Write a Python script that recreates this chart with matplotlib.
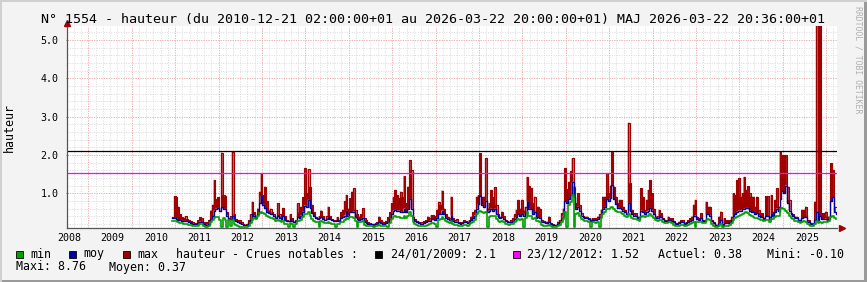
import matplotlib
matplotlib.use("Agg")
import matplotlib.pyplot as plt
from matplotlib.patches import Rectangle
import numpy as np

# ---- data (water level, half-month samples) ----
start_year = 2010.375
step = 1 / 24

hmax = [
    0.37, 0.93, 0.90, 0.65, 0.45, 0.38, 0.35, 0.40, 0.33, 0.30,
    0.27, 0.25, 0.22, 0.20, 0.30, 0.37, 0.35, 0.25, 0.22, 0.25,
    0.30, 0.55, 0.70, 1.35, 0.85, 0.90, 0.55, 2.06, 0.95, 0.92,
    0.50, 0.35, 0.40, 2.09, 0.45, 0.33, 0.30, 0.30, 0.25, 0.20,
    0.18, 0.20, 0.30, 0.45, 0.78, 0.50, 0.35, 0.60, 1.04, 1.52,
    0.95, 1.17, 0.80, 0.55, 0.60, 0.50, 0.45, 0.35, 0.74, 0.45,
    0.38, 0.62, 0.40, 0.30, 0.28, 0.45, 0.35, 0.25, 0.30, 0.74,
    0.50, 0.65, 0.90, 1.65, 1.00, 1.63, 1.17, 0.70, 0.50, 0.38,
    0.35, 0.40, 0.55, 0.40, 0.30, 0.40, 0.65, 0.40, 0.33, 0.30,
    0.30, 0.38, 0.30, 0.50, 0.57, 0.80, 0.96, 0.60, 0.87, 1.04,
    1.13, 0.57, 0.45, 0.39, 0.45, 0.61, 0.35, 0.30, 0.25, 0.22,
    0.20, 0.20, 0.22, 0.25, 0.39, 0.30, 0.26, 0.25, 0.28, 0.38,
    0.50, 0.74, 0.90, 1.09, 0.95, 0.87, 1.04, 0.90, 1.45, 0.74,
    1.17, 1.87, 1.60, 0.39, 0.33, 0.28, 0.26, 0.25, 0.25, 0.27,
    0.30, 0.39, 0.35, 0.43, 0.43, 0.40, 0.57, 0.78, 0.70, 1.07,
    0.60, 0.45, 0.39, 0.35, 0.91, 0.35, 0.30, 0.33, 0.25, 0.22,
    0.25, 0.30, 0.28, 0.26, 0.30, 0.39, 0.50, 0.57, 0.91, 0.95,
    2.04, 0.90, 0.91, 1.91, 0.60, 0.75, 1.09, 0.90, 1.16, 0.70,
    0.45, 0.39, 0.52, 0.40, 0.30, 0.28, 0.26, 0.30, 0.35, 0.45,
    0.57, 0.83, 0.60, 0.83, 0.55, 0.65, 1.43, 1.20, 1.13, 0.74,
    0.91, 0.39, 0.65, 0.60, 0.30, 0.28, 0.26, 0.26, 0.39, 0.22,
    0.20, 0.17, 0.17, 0.26, 0.30, 0.48, 0.60, 1.65, 1.10, 1.30,
    1.57, 1.91, 1.17, 0.74, 1.00, 0.70, 0.48, 0.40, 0.39, 0.39,
    0.35, 0.30, 0.35, 0.35, 0.35, 0.39, 0.45, 0.57, 0.91, 0.91,
    1.52, 1.00, 1.20, 2.09, 1.17, 0.91, 0.74, 0.83, 0.83, 0.65,
    0.57, 0.45, 2.84, 1.26, 0.57, 0.48, 0.48, 0.39, 0.35, 1.13,
    0.91, 0.57, 0.83, 1.09, 1.35, 1.00, 0.60, 0.39, 0.40, 0.57,
    0.48, 0.35, 0.30, 0.30, 0.39, 0.35, 0.35, 0.28, 0.22, 0.22,
    0.26, 0.30, 0.30, 0.22, 0.25, 0.30, 0.35, 0.39, 0.70, 0.83,
    0.39, 0.35, 0.48, 0.30, 0.30, 0.78, 0.65, 0.65, 0.30, 0.25,
    0.17, 0.17, 0.39, 0.52, 0.20, 0.35, 0.30, 0.30, 0.30, 0.39,
    1.00, 0.96, 1.35, 1.39, 0.91, 1.00, 1.43, 1.09, 1.19, 1.00,
    0.91, 0.91, 0.65, 0.91, 0.57, 0.48, 0.48, 0.35, 0.93, 0.93,
    0.39, 0.96, 0.52, 0.83, 1.13, 0.65, 2.09, 2.00, 2.00, 2.00,
    1.17, 0.83, 0.48, 0.45, 0.39, 0.39, 0.30, 0.30, 0.57, 0.57,
    0.65, 0.30, 0.30, 0.22, 0.22, 0.78, 8.76, 0.48, 6.50, 0.48,
    0.48, 0.52, 0.39, 0.39, 1.78, 1.60, 0.65, 0.65,
]

hmoy = [
    0.35, 0.36, 0.34, 0.30, 0.30, 0.28, 0.28, 0.28, 0.27, 0.24,
    0.22, 0.21, 0.20, 0.20, 0.22, 0.26, 0.25, 0.20, 0.18, 0.18,
    0.20, 0.33, 0.40, 0.55, 0.60, 0.62, 0.55, 0.65, 0.60, 0.58,
    0.42, 0.33, 0.33, 0.42, 0.30, 0.27, 0.25, 0.22, 0.20, 0.18,
    0.17, 0.18, 0.22, 0.30, 0.45, 0.42, 0.38, 0.45, 0.75, 0.92,
    0.70, 0.62, 0.52, 0.48, 0.47, 0.45, 0.42, 0.36, 0.40, 0.36,
    0.33, 0.40, 0.30, 0.28, 0.27, 0.32, 0.28, 0.26, 0.27, 0.38,
    0.36, 0.42, 0.52, 0.68, 0.65, 0.83, 0.62, 0.48, 0.40, 0.36,
    0.34, 0.35, 0.38, 0.33, 0.30, 0.32, 0.38, 0.32, 0.30, 0.28,
    0.28, 0.30, 0.28, 0.35, 0.38, 0.42, 0.50, 0.42, 0.50, 0.50,
    0.52, 0.38, 0.33, 0.30, 0.32, 0.36, 0.25, 0.22, 0.20, 0.20,
    0.19, 0.18, 0.20, 0.20, 0.24, 0.22, 0.20, 0.20, 0.22, 0.26,
    0.32, 0.45, 0.55, 0.57, 0.55, 0.55, 0.52, 0.50, 0.60, 0.50,
    0.58, 0.85, 0.60, 0.32, 0.28, 0.25, 0.22, 0.21, 0.21, 0.22,
    0.24, 0.28, 0.28, 0.32, 0.32, 0.30, 0.36, 0.45, 0.45, 0.55,
    0.45, 0.36, 0.33, 0.30, 0.42, 0.28, 0.26, 0.26, 0.22, 0.20,
    0.22, 0.24, 0.24, 0.22, 0.24, 0.30, 0.36, 0.42, 0.60, 0.72,
    0.92, 0.70, 0.65, 0.80, 0.50, 0.55, 0.60, 0.55, 0.60, 0.45,
    0.38, 0.36, 0.38, 0.32, 0.28, 0.26, 0.25, 0.26, 0.28, 0.32,
    0.38, 0.45, 0.40, 0.45, 0.42, 0.48, 0.78, 0.60, 0.58, 0.45,
    0.50, 0.35, 0.38, 0.36, 0.26, 0.24, 0.22, 0.22, 0.25, 0.20,
    0.18, 0.17, 0.17, 0.20, 0.24, 0.32, 0.42, 0.80, 0.75, 0.85,
    0.95, 1.30, 0.90, 0.60, 0.65, 0.55, 0.42, 0.38, 0.36, 0.35,
    0.32, 0.28, 0.30, 0.30, 0.30, 0.32, 0.38, 0.45, 0.60, 0.65,
    0.85, 0.80, 0.88, 1.22, 0.85, 0.72, 0.62, 0.62, 0.60, 0.55,
    0.50, 0.45, 0.75, 0.55, 0.45, 0.42, 0.40, 0.36, 0.34, 0.55,
    0.50, 0.45, 0.52, 0.55, 0.62, 0.55, 0.45, 0.36, 0.35, 0.40,
    0.38, 0.32, 0.28, 0.28, 0.30, 0.30, 0.28, 0.24, 0.20, 0.20,
    0.22, 0.24, 0.24, 0.20, 0.22, 0.25, 0.28, 0.30, 0.40, 0.42,
    0.32, 0.30, 0.35, 0.27, 0.27, 0.45, 0.45, 0.42, 0.27, 0.22,
    0.18, 0.17, 0.22, 0.30, 0.18, 0.22, 0.22, 0.22, 0.24, 0.30,
    0.42, 0.45, 0.52, 0.55, 0.55, 0.58, 0.60, 0.62, 0.62, 0.55,
    0.50, 0.50, 0.45, 0.48, 0.42, 0.38, 0.38, 0.33, 0.40, 0.40,
    0.34, 0.45, 0.40, 0.50, 0.60, 0.55, 0.85, 1.05, 1.00, 1.20,
    0.75, 0.55, 0.45, 0.40, 0.36, 0.36, 0.30, 0.28, 0.35, 0.38,
    0.38, 0.26, 0.24, 0.20, 0.20, 0.30, 0.50, 0.30, 0.40, 0.32,
    0.32, 0.34, 0.30, 0.34, 0.80, 0.90, 0.50, 0.45,
]

hmin = [
    0.27, 0.28, 0.27, 0.24, 0.22, 0.22, 0.21, 0.21, 0.20, 0.18,
    0.17, 0.16, 0.15, 0.15, 0.16, 0.20, 0.20, 0.14, 0.13, 0.13,
    0.15, 0.24, 0.30, 0.36, 0.38, 0.38, 0.30, 0.12, 0.35, 0.30,
    0.12, 0.30, 0.14, 0.30, 0.20, 0.18, 0.15, 0.13, 0.12, 0.12,
    0.12, 0.13, 0.15, 0.22, 0.30, 0.35, 0.32, 0.40, 0.48, 0.52,
    0.48, 0.45, 0.40, 0.38, 0.36, 0.35, 0.33, 0.28, 0.30, 0.27,
    0.25, 0.28, 0.20, 0.20, 0.12, 0.22, 0.20, 0.12, 0.20, 0.27,
    0.27, 0.30, 0.38, 0.45, 0.45, 0.50, 0.42, 0.32, 0.28, 0.25,
    0.24, 0.12, 0.27, 0.24, 0.22, 0.23, 0.25, 0.22, 0.20, 0.20,
    0.12, 0.20, 0.20, 0.24, 0.26, 0.30, 0.36, 0.33, 0.38, 0.38,
    0.36, 0.28, 0.12, 0.25, 0.24, 0.27, 0.18, 0.16, 0.15, 0.14,
    0.14, 0.13, 0.14, 0.15, 0.17, 0.15, 0.14, 0.14, 0.15, 0.12,
    0.22, 0.32, 0.38, 0.40, 0.38, 0.38, 0.36, 0.36, 0.42, 0.35,
    0.40, 0.52, 0.40, 0.24, 0.20, 0.18, 0.16, 0.15, 0.15, 0.15,
    0.16, 0.18, 0.20, 0.22, 0.22, 0.21, 0.12, 0.30, 0.33, 0.38,
    0.33, 0.27, 0.25, 0.22, 0.28, 0.20, 0.18, 0.18, 0.16, 0.15,
    0.16, 0.17, 0.17, 0.16, 0.17, 0.22, 0.26, 0.30, 0.45, 0.50,
    0.55, 0.50, 0.48, 0.52, 0.12, 0.38, 0.42, 0.40, 0.42, 0.33,
    0.28, 0.26, 0.27, 0.24, 0.20, 0.19, 0.18, 0.19, 0.20, 0.24,
    0.28, 0.32, 0.30, 0.32, 0.12, 0.35, 0.50, 0.42, 0.40, 0.33,
    0.36, 0.27, 0.28, 0.26, 0.18, 0.16, 0.15, 0.15, 0.17, 0.14,
    0.13, 0.12, 0.12, 0.14, 0.17, 0.24, 0.32, 0.50, 0.12, 0.70,
    0.78, 0.95, 0.12, 0.45, 0.48, 0.42, 0.33, 0.30, 0.28, 0.27,
    0.25, 0.12, 0.24, 0.24, 0.23, 0.25, 0.12, 0.35, 0.45, 0.50,
    0.60, 0.60, 0.62, 0.65, 0.58, 0.55, 0.50, 0.50, 0.48, 0.45,
    0.40, 0.38, 0.45, 0.42, 0.36, 0.34, 0.32, 0.30, 0.28, 0.38,
    0.40, 0.38, 0.40, 0.42, 0.45, 0.42, 0.36, 0.30, 0.28, 0.30,
    0.30, 0.25, 0.22, 0.22, 0.24, 0.24, 0.22, 0.18, 0.16, 0.15,
    0.16, 0.18, 0.18, 0.15, 0.16, 0.18, 0.20, 0.22, 0.26, 0.12,
    0.26, 0.24, 0.26, 0.22, 0.22, 0.30, 0.32, 0.30, 0.20, 0.16,
    0.13, 0.12, 0.15, 0.20, 0.13, 0.15, 0.15, 0.16, 0.17, 0.22,
    0.30, 0.35, 0.38, 0.42, 0.44, 0.46, 0.48, 0.50, 0.48, 0.44,
    0.40, 0.38, 0.36, 0.36, 0.33, 0.30, 0.30, 0.27, 0.30, 0.30,
    0.26, 0.33, 0.32, 0.38, 0.42, 0.42, 0.58, 0.62, 0.60, 0.55,
    0.48, 0.42, 0.36, 0.32, 0.28, 0.28, 0.24, 0.22, 0.25, 0.27,
    0.26, 0.20, 0.18, 0.15, 0.15, 0.20, 0.28, 0.22, 0.25, 0.22,
    0.24, 0.26, 0.25, 0.27, 0.38, 0.40, 0.35, 0.33,
]

years = list(range(2008, 2026))
y_ticks = [1.0, 2.0, 3.0, 4.0, 5.0]
crues = [("24/01/2009", 2.1, "#000000"), ("23/12/2012", 1.52, "#ff00ff")]

n = min(len(hmax), len(hmoy), len(hmin))
t = start_year + np.arange(n) * step
hmax = np.array(hmax[:n])
hmoy = np.array(hmoy[:n])
hmin = np.array(hmin[:n])

RED = "#a00000"
BLUE = "#0000a0"
GREEN = "#00a000"
BG = "#f3f3f3"

W, H = 867, 282
fig = plt.figure(figsize=(W / 100, H / 100), dpi=100, facecolor=BG)


def fx(x):
    return x / W


def fy(y):
    return 1 - y / H


# plot area in pixels
L, R, T, B = 67, 837, 26, 228.3
ax = fig.add_axes([fx(L), fy(B), (R - L) / W, (B - T) / H])
ax.set_facecolor("white")
ax.set_xlim(2007.954, 2025.696)
ax.set_ylim(0.087, 5.365)

mono = "DejaVu Sans Mono"

# grid
grid_minor = "#dadada"
grid_major = "#f4a8a8"
dots = (0, (1, 1.5))
for v in np.arange(0.2, 5.4, 0.2):
    ax.axhline(v, color=grid_minor, lw=0.7, ls=dots, zorder=0)
for v in y_ticks:
    ax.axhline(v, color=grid_major, lw=0.7, ls=dots, zorder=0.5)
for v in np.arange(2007.445 + 1 / 6, 2025.7, 1 / 6):
    ax.axvline(v, color=grid_minor, lw=0.7, ls=dots, zorder=0)
for v in np.arange(2008.445, 2025.7, 1.0):
    ax.axvline(v, color=grid_major, lw=0.7, ls=dots, zorder=0.5)

# data
ax.fill_between(t, hmoy, hmax, step="post", color=RED, lw=0, zorder=2)
ax.plot(t, hmax, drawstyle="steps-post", color=RED, lw=0.8, zorder=2)
ax.plot(t, hmoy, drawstyle="steps-post", color=BLUE, lw=1.0, zorder=3)
ax.plot(t, hmin, drawstyle="steps-post", color=GREEN, lw=1.2, zorder=4)

for _, level, col in crues:
    ax.axhline(level, color=col, lw=0.9, zorder=5)

# axes
for s in ["top", "right"]:
    ax.spines[s].set_visible(False)
for s in ["left", "bottom"]:
    ax.spines[s].set_color("#555555")
    ax.spines[s].set_linewidth(0.9)
    ax.spines[s].set_zorder(6)
ax.plot([1.006], [0.0], marker=">", color=RED, ms=4.5, transform=ax.transAxes,
        clip_on=False, zorder=7)
ax.plot([0.0], [1.015], marker="^", color=RED, ms=4.5, transform=ax.transAxes,
        clip_on=False, zorder=7)

ax.set_xticks(years)
ax.set_xticklabels([str(y) for y in years], fontsize=7.2, family=mono)
ax.set_yticks(y_ticks)
ax.set_yticklabels([f"{v:.1f}" for v in y_ticks], fontsize=7.2, family=mono)
ax.tick_params(axis="x", length=0, pad=3.5)
ax.tick_params(axis="y", length=2, direction="inout", color="#888888", pad=5)
ax.set_ylabel("hauteur", fontsize=8.4, family=mono)
ax.yaxis.set_label_coords((16 - L) / (R - L), 0.5)

# title
fig.text(fx(433), fy(19), "N° 1554 - hauteur (du 2010-12-21 02:00:00+01 au "
         "2026-03-22 20:00:00+01) MAJ 2026-03-22 20:36:00+01",
         ha="center", va="center", fontsize=9.6, family=mono)
fig.text(fx(858), fy(60), "RRDTOOL / TOBI OETIKER", rotation=270,
         ha="center", va="center", fontsize=5.9, family=mono, color="#b0b0b0")

# legend
row1, row2 = 254, 267


def swatch(x, col):
    fig.patches.append(Rectangle((fx(x), fy(row1 + 3.5)), 7 / W, 7 / H,
                                 transform=fig.transFigure, facecolor=col,
                                 edgecolor="black", lw=0.6))


def ltext(x, y, s):
    fig.text(fx(x), fy(y), s, ha="left", va="center", fontsize=8.4, family=mono)


swatch(15.5, GREEN)
ltext(30, row1, "min")
swatch(68.5, BLUE)
ltext(83, row1, "moy")
swatch(122.5, RED)
ltext(137, row1, "max")
ltext(176, row1, "hauteur - Crues notables :")
swatch(375, crues[0][2])
ltext(391, row1, f"{crues[0][0]}: {crues[0][1]}")
swatch(513, crues[1][2])
ltext(527, row1, f"{crues[1][0]}: {crues[1][1]}")
ltext(658, row1, "Actuel: 0.38")
ltext(767, row1, "Mini: -0.10")
ltext(16, row2, "Maxi: 8.76")
ltext(109, row2, "Moyen: 0.37")

# frame of the picture
fig.patches.append(Rectangle((0, 0), 1, 2 / H, transform=fig.transFigure,
                             facecolor="#9a9a9a", lw=0))
fig.patches.append(Rectangle((1 - 3 / W, 0), 3 / W, 1, transform=fig.transFigure,
                             facecolor="#9a9a9a", lw=0))
fig.patches.append(Rectangle((0, 1 - 2 / H), 1, 2 / H, transform=fig.transFigure,
                             facecolor="#d0d0d0", lw=0))
fig.patches.append(Rectangle((0, 0), 2 / W, 1, transform=fig.transFigure,
                             facecolor="#d0d0d0", lw=0))

fig.savefig("out.png", dpi=100, facecolor=BG)
